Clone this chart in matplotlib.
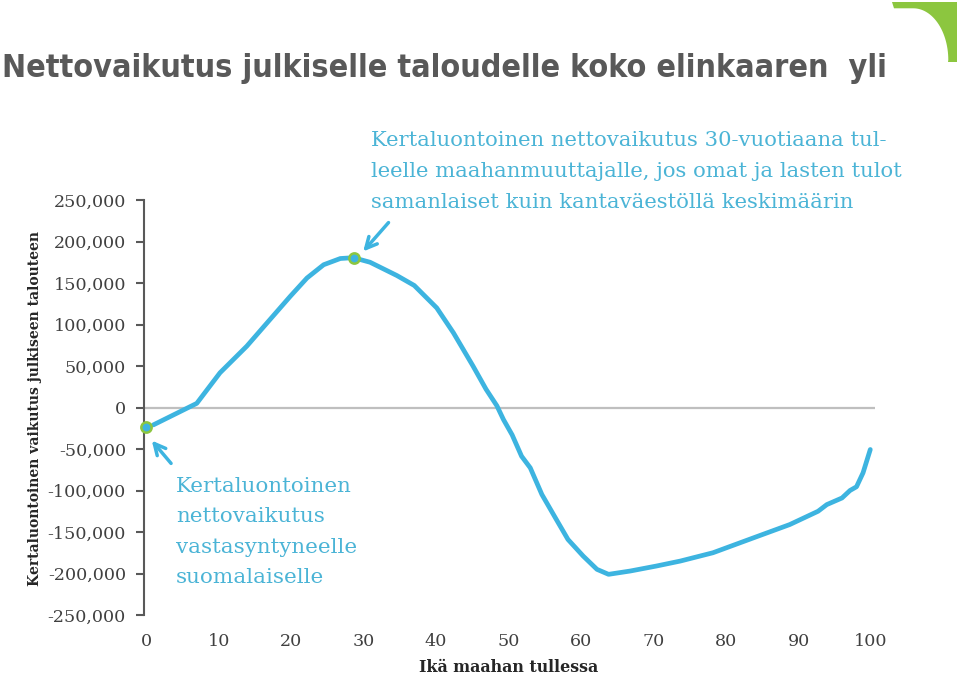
import numpy as np
import matplotlib.pyplot as plt
from matplotlib.patches import Polygon

# ages and net effect
ages = [1, 7, 10.2, 13.9, 17.1, 19.9, 22.2, 24.5, 26.8, 28.6, 30.9, 34.6, 37, 40.1,
        42.4, 45.1, 46.9, 48.4, 49.3, 50.5, 51.8, 53, 54.6, 56.6, 58.2, 60.3, 62.2,
        63.8, 66.8, 70.4, 73.7, 78.2, 83.8, 88.8, 92.7, 93.9, 96, 97.1, 98, 98.9, 99.9]
values = [-21000, 5000, 41800, 73900, 106000, 134000, 156000, 172000, 179500, 180500,
          175000, 159000, 147000, 120000, 90000, 50000, 22000, 2000, -14500, -33000,
          -58700, -72700, -104800, -135000, -159000, -179000, -195000, -201000, -197000,
          -191000, -185000, -175000, -157000, -141000, -125000, -117000, -109000,
          -100000, -95500, -78700, -50600]

dot_ages = [0, 28.7]
dot_values = [-23500, 180400]

yticks = list(range(-250000, 250001, 50000))
xticks = list(range(0, 101, 10))

title = 'Nettovaikutus julkiselle taloudelle koko elinkaaren  yli'
note_adult = ('Kertaluontoinen nettovaikutus 30-vuotiaana tul-\n'
              'leelle maahanmuuttajalle, jos omat ja lasten tulot\n'
              'samanlaiset kuin kantaväestöllä keskimäärin')
note_child = 'Kertaluontoinen\nnettovaikutus\nvastasyntyneelle\nsuomalaiselle'

blue = '#3db4e0'
text_blue = '#4bb4d6'
green = '#8cc63f'
serif = ['DejaVu Serif']

W, H = 960, 677
fig = plt.figure(figsize=(9.6, 6.77), dpi=100)
ax = fig.add_axes([144 / W, 1 - 615 / H, (875 - 144) / W, (615 - 200) / H])

ax.axhline(0, color='#bfbfbf', lw=1.6, zorder=1)
ax.plot(ages, values, color=blue, lw=3.4, solid_capstyle='round', zorder=3)
ax.scatter(dot_ages, dot_values, s=55, color=blue, edgecolors=green, linewidths=1.8,
           zorder=4, clip_on=False)

ax.set_xlim(-0.28, 100.55)
ax.set_ylim(-250000, 250000)
ax.set_yticks(yticks)
ax.set_yticklabels([f'{v:,}' for v in yticks], family=serif, fontsize=12.6, color='#404040')
ax.set_xticks(xticks)
ax.set_xticklabels([str(v) for v in xticks], family=serif, fontsize=12.6, color='#404040')
ax.tick_params(axis='y', length=6, width=1.5, color='#595959', pad=7)
ax.tick_params(axis='x', length=0, pad=13)
for s in ['top', 'right', 'bottom']:
    ax.spines[s].set_visible(False)
ax.spines['left'].set_color('#595959')
ax.spines['left'].set_linewidth(1.5)

# annotations
ax.text(31.0, 332600, note_adult, family=serif, fontsize=15.2, color=text_blue,
        va='top', ha='left', linespacing=1.8, clip_on=False)
ax.annotate('', xy=(29.7, 185500), xytext=(33.7, 225300),
            arrowprops=dict(arrowstyle='->', color=blue, lw=2.5, mutation_scale=20))
ax.text(4.1, -84000, note_child, family=serif, fontsize=15.4, color=text_blue,
        va='top', ha='left', linespacing=1.75, clip_on=False)
ax.annotate('', xy=(0.55, -37300), xytext=(3.7, -69900),
            arrowprops=dict(arrowstyle='->', color=blue, lw=2.5, mutation_scale=20))

fig.text(2 / W, 1 - 77 / H, title, family=['Liberation Sans Narrow', 'DejaVu Sans'],
         fontstretch='condensed', fontweight='bold', fontsize=23.1, color='#595959',
         ha='left', va='baseline')
fig.text(35 / W, 1 - 408 / H, 'Kertaluontoinen vaikutus julkiseen talouteen',
         family=serif, fontweight='bold', fontsize=10, color='#262626',
         rotation=90, ha='center', va='center')
fig.text(509 / W, 1 - 668 / H, 'Ikä maahan tullessa', family=serif, fontweight='bold',
         fontsize=11.4, color='#262626', ha='center', va='center')

# logo corner in the top right
theta = np.linspace(0, np.pi / 2, 30)
arc = [(913.3 + 35 * np.cos(t), 60 - 51.7 * np.sin(t)) for t in theta]
pts = [(892, 2), (957, 2), (957, 62), (948, 62)] + arc + [(894, 8.3)]
fig.patches.append(Polygon([(x / W, 1 - y / H) for x, y in pts], closed=True,
                           transform=fig.transFigure, facecolor=green, edgecolor='none'))

fig.savefig('out.png', dpi=100)
